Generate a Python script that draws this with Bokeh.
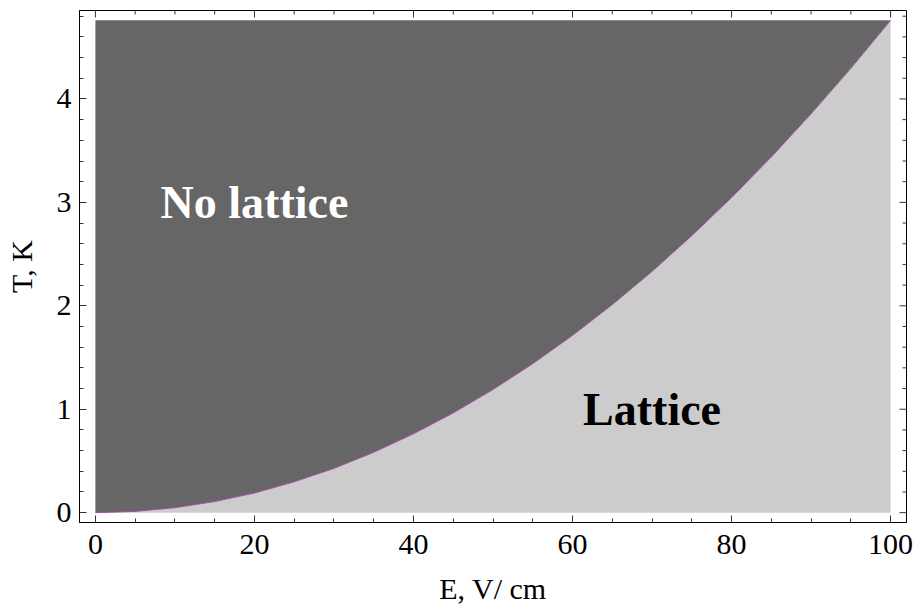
import math
from bokeh.plotting import figure
from bokeh.models import Range1d, FixedTicker
from bokeh.core.properties import value
from bokeh.embed import file_html
from bokeh.resources import INLINE

# Phase boundary: field E (V/cm) vs temperature T (K)
E = [0, 5, 10, 15, 20, 25, 30, 35, 40, 45, 50,
     55, 60, 65, 70, 75, 80, 85, 90, 95, 100]
T = [0.0, 0.012, 0.048, 0.107, 0.190, 0.298, 0.428, 0.583, 0.762, 0.964, 1.190,
     1.440, 1.714, 2.011, 2.332, 2.678, 3.046, 3.439, 3.856, 4.296, 4.760]
T_TOP = 4.76

x_major = [0, 20, 40, 60, 80, 100]
x_minor = [5, 10, 15, 25, 30, 35, 45, 50, 55, 65, 70, 75, 85, 90, 95]
y_major = [0, 1, 2, 3, 4]
y_minor = [0.2, 0.4, 0.6, 0.8, 1.2, 1.4, 1.6, 1.8, 2.2, 2.4, 2.6, 2.8,
           3.2, 3.4, 3.6, 3.8, 4.2, 4.4, 4.6, 4.8]

region_names = ["No lattice", "Lattice"]
region_x = [20, 70]
region_y = [3, 1]
region_colors = ["white", "black"]

FONT = "Liberation Serif"
X0, X1 = -2, 102
Y0, Y1 = -0.0952, 4.8552

p = figure(width=914, height=607,
           x_range=Range1d(X0, X1), y_range=Range1d(Y0, Y1),
           output_backend="svg", toolbar_location=None,
           x_axis_label="E, V/ cm", y_axis_label="T, K",
           min_border_left=79, min_border_right=8,
           min_border_top=10, min_border_bottom=85)
p.background_fill_color = "white"
p.border_fill_color = "white"
p.outline_line_color = "black"
p.xgrid.visible = False
p.ygrid.visible = False

# filled regions
p.varea(x=E, y1=T, y2=T_TOP, fill_color="#666666")
p.varea(x=E, y1=0, y2=T, fill_color="#cccccc")
p.line(E, T, line_color="#a04ca0", line_width=1)

for name, xx, yy, col in zip(region_names, region_x, region_y, region_colors):
    p.text(x=[xx], y=[yy], text=[name], text_font=value(FONT),
           text_font_style="bold", text_font_size="46px", text_color=col,
           text_align="center", text_baseline="middle")

# mirrored ticks on top and right frame edges (half of each dash is clipped by the frame)
TICK = "#333333"
p.scatter(x=x_major, y=[Y1] * len(x_major), marker="dash", size=14,
          angle=math.pi / 2, line_color=TICK, line_width=1)
p.scatter(x=x_minor, y=[Y1] * len(x_minor), marker="dash", size=8,
          angle=math.pi / 2, line_color=TICK, line_width=1)
p.scatter(x=[X1] * len(y_major), y=y_major, marker="dash", size=14,
          line_color=TICK, line_width=1)
p.scatter(x=[X1] * len(y_minor), y=y_minor, marker="dash", size=8,
          line_color=TICK, line_width=1)

xt = FixedTicker(ticks=x_major, minor_ticks=x_minor)
yt = FixedTicker(ticks=y_major, minor_ticks=y_minor)

for ax in (p.xaxis[0], p.yaxis[0]):
    ax.axis_line_color = "black"
    ax.axis_line_width = 1
    ax.major_tick_in = 7
    ax.major_tick_out = 0
    ax.minor_tick_in = 4
    ax.minor_tick_out = 0
    ax.major_tick_line_color = TICK
    ax.minor_tick_line_color = TICK
    ax.major_label_text_font = FONT
    ax.major_label_text_font_size = "30px"
    ax.major_label_text_color = "black"
    ax.axis_label_text_font = FONT
    ax.axis_label_text_font_size = "30px"
    ax.axis_label_text_font_style = "normal"
    ax.axis_label_text_color = "black"

p.xaxis.ticker = xt
p.yaxis.ticker = yt
p.xaxis.major_label_standoff = 12
p.yaxis.major_label_standoff = 8
p.xaxis.axis_label_standoff = 15
p.yaxis.axis_label_standoff = 16

open("out.html", "w").write(file_html(p, INLINE))
